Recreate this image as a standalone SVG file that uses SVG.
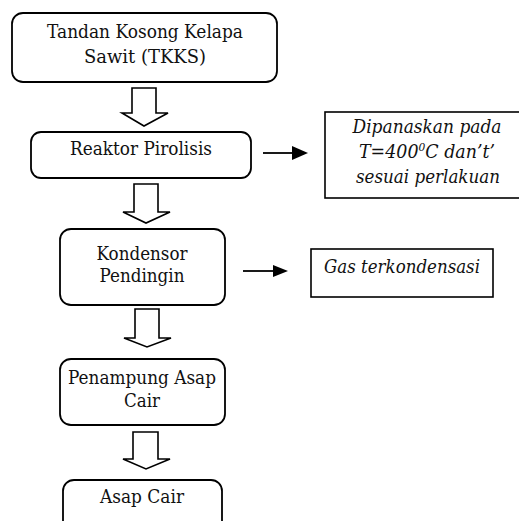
<svg xmlns="http://www.w3.org/2000/svg" width="519" height="521" viewBox="0 0 519 521">
<defs>
<style>
.rbox{fill:#fff;stroke:#000;stroke-width:1.8}
.sbox{fill:#fff;stroke:#000;stroke-width:1.6}
text{font-family:'DejaVu Serif',serif;font-size:19px;fill:#111;text-anchor:middle}
.i{font-style:italic}
.s{font-size:18px}
.blk{fill:#fff;stroke:#000;stroke-width:1.6;stroke-linejoin:miter}
.ln{stroke:#000;stroke-width:1.8;fill:none}
</style>
</defs>
<rect width="519" height="521" fill="#fff"/>
<g id="n1">
<rect class="rbox" x="12" y="13" width="265" height="69" rx="11"/>
<text x="145" y="38" textLength="196" lengthAdjust="spacingAndGlyphs">Tandan Kosong Kelapa</text>
<text x="145" y="63" textLength="122" lengthAdjust="spacingAndGlyphs">Sawit (TKKS)</text>
</g>
<g id="n2">
<rect class="rbox" x="31" y="132" width="220" height="46" rx="10"/>
<text x="141" y="155" textLength="142" lengthAdjust="spacingAndGlyphs">Reaktor Pirolisis</text>
</g>
<g id="n3">
<rect class="rbox" x="60" y="229" width="165" height="76" rx="11"/>
<text x="142" y="260" textLength="91" lengthAdjust="spacingAndGlyphs">Kondensor</text>
<text x="142" y="282" textLength="85" lengthAdjust="spacingAndGlyphs">Pendingin</text>
</g>
<g id="n4">
<rect class="rbox" x="60" y="359" width="165" height="66" rx="11"/>
<text x="142" y="384" textLength="148" lengthAdjust="spacingAndGlyphs">Penampung Asap</text>
<text x="142" y="407" textLength="36" lengthAdjust="spacingAndGlyphs">Cair</text>
</g>
<g id="n5">
<rect class="rbox" x="63" y="480" width="159" height="70" rx="11"/>
<text x="142" y="503" textLength="84" lengthAdjust="spacingAndGlyphs">Asap Cair</text>
</g>
<g id="n6">
<rect class="sbox" x="325" y="112" width="200" height="86"/>
<text class="i s" x="427" y="133" textLength="149" lengthAdjust="spacingAndGlyphs">Dipanaskan pada</text>
<text class="i s" x="427" y="158" textLength="136" lengthAdjust="spacingAndGlyphs">T=400<tspan font-size="11" dy="-7">0</tspan><tspan dy="7">C dan’t’</tspan></text>
<text class="i s" x="428" y="183" textLength="144" lengthAdjust="spacingAndGlyphs">sesuai perlakuan</text>
</g>
<g id="n7">
<rect class="sbox" x="311" y="249" width="182" height="48"/>
<text class="i" x="402" y="273" textLength="156" lengthAdjust="spacingAndGlyphs">Gas terkondensasi</text>
</g>
<g id="connectors">
<polygon class="blk" points="132,88 156,88 156,113 168,113 144,126 122,113 132,113"/>
<polygon class="blk" points="134,184 158,184 158,212 170,212 146,223 123,212 134,212"/>
<polygon class="blk" points="135,309 159,309 159,338 171,338 147,347 124,338 135,338"/>
<polygon class="blk" points="133,432 158,432 158,459 170,459 146,469 123,459 133,459"/>
<line class="ln" x1="263" y1="153" x2="293" y2="153"/>
<path d="M292,146 L308,153 L292,160 Z" fill="#000"/>
<line class="ln" x1="243" y1="271" x2="274" y2="271"/>
<path d="M273,265 L288,271 L273,277 Z" fill="#000"/>
</g>
</svg>
